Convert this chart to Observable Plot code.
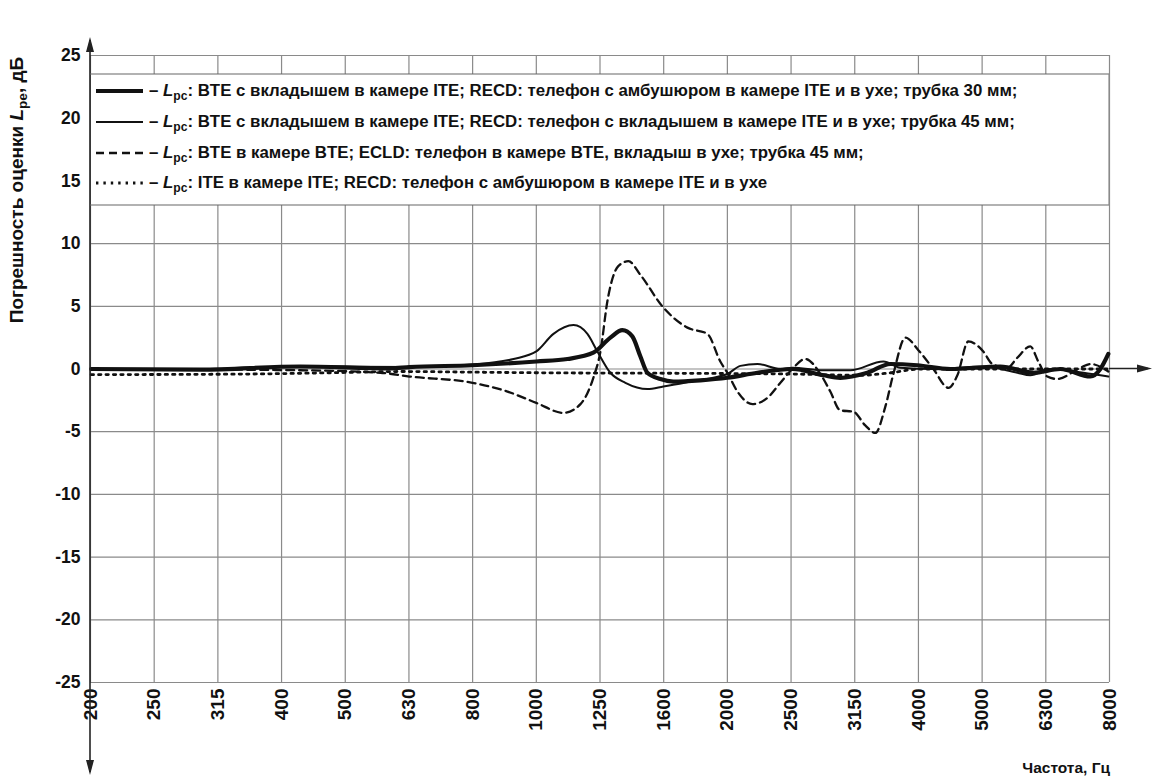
<!DOCTYPE html>
<html><head><meta charset="utf-8">
<script src="https://cdn.jsdelivr.net/npm/d3@7"></script>
<script src="https://cdn.jsdelivr.net/npm/@observablehq/plot@0.6"></script>
<style>body{margin:0;background:#fff} #chart{width:1152px;height:780px;position:relative}</style>
</head><body><div id="chart"></div>
<script>
// ---- tick labels (1/3-octave bands) ----
const xTickLabels = ["200","250","315","400","500","630","800","1000","1250","1600","2000","2500","3150","4000","5000","6300","8000"];
const yTicks = [-25,-20,-15,-10,-5,0,5,10,15,20,25];

// ---- series: thick solid (BTE, tube 30 mm) ----
const s30Hz = [200, 297, 426, 590, 632, 794, 1000, 1119, 1229, 1307, 1365, 1415, 1457, 1494, 1566, 1641, 1809, 1995, 2224, 2523, 2823, 3001, 3310, 3597, 3966, 4468, 5353, 6030, 6650, 7413, 7685, 7910];
const s30dB = [0.0, -0.05, 0.2, 0.05, 0.15, 0.3, 0.6, 0.8, 1.3, 2.5, 3.1, 2.6, 1.0, -0.3, -0.8, -1.0, -0.9, -0.7, -0.3, 0.0, -0.5, -0.7, -0.3, 0.4, 0.3, 0.0, 0.2, -0.3, 0.0, -0.6, 0.0, 1.2];

// ---- series: thin solid (BTE, tube 45 mm) ----
const s45Hz = [200, 297, 426, 632, 794, 921, 1000, 1064, 1144, 1203, 1247, 1307, 1380, 1494, 1583, 1745, 1995, 2091, 2224, 2417, 2523, 2823, 3112, 3507, 3730, 4202, 5033, 5692, 5965, 6413, 7227, 7910];
const s45dB = [0.0, 0.0, 0.2, 0.15, 0.35, 0.8, 1.4, 2.8, 3.5, 2.8, 1.4, -0.3, -1.1, -1.6, -1.4, -1.0, -0.4, 0.25, 0.4, 0.0, 0.1, -0.1, -0.1, 0.6, 0.1, 0.0, 0.2, -0.3, -0.5, 0.0, -0.3, -0.6];

// ---- series: dashed (BTE in BTE coupler, ECLD) ----
const sBteHz = [200, 426, 569, 632, 794, 901, 1000, 1103, 1173, 1229, 1261, 1293, 1345, 1395, 1457, 1583, 1727, 1856, 1945, 1995, 2069, 2184, 2306, 2417, 2523, 2645, 2793, 2895, 3001, 3146, 3285, 3407, 3532, 3636, 3798, 3980, 4202, 4436, 4583, 4768, 5033, 5200, 5490, 5692, 5965, 6140, 6344, 6578, 7149, 7413, 7910];
const sBtedB = [0.0, -0.1, -0.3, -0.6, -1.1, -1.8, -2.7, -3.5, -2.8, -0.7, 1.4, 5.4, 8.2, 8.6, 7.5, 4.9, 3.3, 2.8, 0.6, -0.3, -1.8, -2.8, -2.3, -1.1, 0.0, 0.8, -0.4, -1.8, -3.3, -3.4, -4.5, -5.1, -3.0, -0.4, 2.5, 1.5, 0.0, -1.5, -0.5, 2.2, 1.4, 0.4, 0.1, 0.9, 1.8, 0.6, -0.6, -0.8, 0.1, 0.4, -0.2];

// ---- series: dotted (ITE in ITE coupler) ----
const sIteHz = [200, 356, 475, 612, 788, 1000, 1809, 2506, 3227, 3597, 4009, 5353, 7910];
const sItedB = [-0.45, -0.4, -0.3, -0.2, -0.25, -0.3, -0.35, -0.4, -0.5, -0.3, 0.0, 0.0, 0.0];

const legendRows = [
  "BTE с вкладышем в камере ITE; RECD: телефон с амбушюром в камере ITE и в ухе; трубка 30 мм;",
  "BTE с вкладышем в камере ITE; RECD: телефон с вкладышем в камере ITE и в ухе; трубка 45 мм;",
  "BTE в камере BTE; ECLD: телефон в камере BTE, вкладыш в ухе; трубка 45 мм;",
  "ITE в камере ITE; RECD: телефон с амбушюром в камере ITE и в ухе"
];

const styles = [
  {hz: s30Hz, db: s30dB, strokeWidth: 4.2, dash: null},
  {hz: s45Hz, db: s45dB, strokeWidth: 2.0, dash: null},
  {hz: sBteHz, db: sBtedB, strokeWidth: 2.3, dash: "8,5"},
  {hz: sIteHz, db: sItedB, strokeWidth: 2.8, dash: "2.4,5"}
];

const W = 1152, H = 780, ML = 90, MR = 43, MT = 55, MB = 98;
// the x axis is spaced by 1/3-octave band (tenth of a decade), starting at 200 Hz
const band = f => 10 * (Math.log10(f) - 2.3);
const bandTicks = xTickLabels.map((_, i) => i);
const FONT = "'Liberation Sans', Arial, Helvetica, sans-serif";

const lineMarks = styles.map(s => Plot.line(s.hz.map((f, i) => ({f, v: s.db[i]})), {
  x: d => band(d.f), y: "v", stroke: "#111", strokeWidth: s.strokeWidth,
  strokeDasharray: s.dash, curve: "monotone-x", strokeLinejoin: "round"
}));

const plot = Plot.plot({
  width: W, height: H,
  marginLeft: ML, marginRight: MR, marginTop: MT, marginBottom: MB,
  style: {fontFamily: FONT, fontWeight: "bold", color: "#111", background: "#fff", overflow: "visible"},
  x: {type: "linear", domain: [0, xTickLabels.length - 1]},
  y: {domain: [-25, 25]},
  marks: [
    Plot.ruleX(bandTicks, {stroke: "#8a8a8a", strokeWidth: 1.2}),
    Plot.ruleY(yTicks, {stroke: "#8a8a8a", strokeWidth: 1.2}),
    Plot.axisX({ticks: bandTicks, tickFormat: i => xTickLabels[i], tickRotate: -90, tickSize: 0, tickPadding: 6,
      fontSize: 19, fontWeight: "bold", label: null}),
    Plot.axisY({ticks: yTicks, tickFormat: d => String(d), tickSize: 0, tickPadding: 10, fontSize: 17.5, fontWeight: "bold", label: null}),
    ...lineMarks
  ]
});
document.getElementById("chart").appendChild(plot);

// ---- decorations: axis arrows, legend, titles ----
const svg = d3.select(plot);
const ys = plot.scale("y");
const X0 = ML, X1 = W - MR;
const y0 = ys.apply(0);
const g = svg.append("g").attr("font-family", FONT).attr("font-weight", "bold").attr("fill", "#111").attr("text-anchor", "start");

// left axis with arrows
g.append("line").attr("x1", X0).attr("x2", X0).attr("y1", 40).attr("y2", 772).attr("stroke", "#222").attr("stroke-width", 1.6);
g.append("path").attr("d", `M${X0 - 4},${52} L${X0},${37} L${X0 + 4},${52} Z`).attr("fill", "#222");
g.append("path").attr("d", `M${X0 - 4},${760} L${X0},${775} L${X0 + 4},${760} Z`).attr("fill", "#222");
// zero-line extension with arrow
g.append("line").attr("x1", X1).attr("x2", 1148).attr("y1", y0).attr("y2", y0).attr("stroke", "#222").attr("stroke-width", 1.6);
g.append("path").attr("d", `M${1137},${y0 - 4} L${1152},${y0} L${1137},${y0 + 4} Z`).attr("fill", "#222");

// legend box
const LT = 74, LB = 205;
g.append("rect").attr("x", X0 + 1).attr("y", LT).attr("width", X1 - X0 - 1).attr("height", LB - LT).attr("fill", "#fff");
g.append("line").attr("x1", X0).attr("x2", X1).attr("y1", LT).attr("y2", LT).attr("stroke", "#666").attr("stroke-width", 1.2);
g.append("line").attr("x1", X0).attr("x2", X1).attr("y1", LB).attr("y2", LB).attr("stroke", "#666").attr("stroke-width", 1.2);
g.append("line").attr("x1", X1).attr("x2", X1).attr("y1", LT).attr("y2", LB).attr("stroke", "#8a8a8a").attr("stroke-width", 1.2);

const rowY = [91, 122, 153, 183];
const texts = [];
styles.forEach((s, i) => {
  g.append("line").attr("x1", 96).attr("x2", 143).attr("y1", rowY[i]).attr("y2", rowY[i])
    .attr("stroke", "#111").attr("stroke-width", s.strokeWidth).attr("stroke-dasharray", s.dash);
  const t = g.append("text").attr("x", 149).attr("y", rowY[i] + 5).attr("font-size", 15).attr("text-anchor", "start");
  t.append("tspan").text("– ");
  t.append("tspan").attr("font-style", "italic").text("L");
  t.append("tspan").attr("font-size", "0.72em").attr("dy", 4).text("pc");
  t.append("tspan").attr("dy", -4).text(": " + legendRows[i]);
  texts.push(t);
});
// fit legend font so that the first row ends where the reference ends
const len0 = texts[0].node().getComputedTextLength();
if (len0 > 0) {
  const fs = Math.max(11, Math.min(18, 15 * (1018 - 149) / len0));
  texts.forEach(t => t.attr("font-size", fs));
}

// y-axis title
const yt = g.append("text").attr("transform", `translate(23,190) rotate(-90)`).attr("text-anchor", "middle").attr("font-size", 19);
yt.append("tspan").text("Погрешность оценки ");
yt.append("tspan").attr("font-style", "italic").text("L");
yt.append("tspan").attr("font-size", "0.72em").attr("dy", 4).text("pe");
yt.append("tspan").attr("dy", -4).text(", дБ");

// x-axis title
g.append("text").attr("x", 1110).attr("y", 773).attr("text-anchor", "end").attr("font-size", 15.5).text("Частота, Гц");
</script>
</body></html>
